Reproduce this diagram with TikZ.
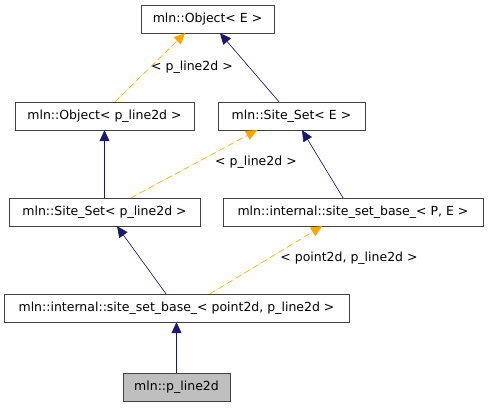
\documentclass[tikz,border=0pt]{standalone}
\usepackage{fontspec}
\setmainfont{DejaVu Sans}
\usetikzlibrary{arrows.meta, positioning}

\begin{document}
\begin{tikzpicture}[
  x=1pt, y=-1pt,
  cls/.style={draw=black!75, minimum height=28pt, inner sep=0pt,
              font=\fontsize{12.5}{14}\selectfont, fill=white},
  cur/.style={cls, fill=black!25},
  inh/.style={-{Triangle[length=11pt, width=10pt]}, draw=MidnightBlue, fill=MidnightBlue, semithick},
  tpl/.style={-{Triangle[length=11pt, width=10pt]}, draw=Orange, fill=Orange, semithick, dash pattern=on 6pt off 4pt},
  lbl/.style={font=\fontsize{12.5}{14}\selectfont}
]
  \definecolor{MidnightBlue}{HTML}{191970}
  \definecolor{Orange}{HTML}{FFA500}
  \useasboundingbox (0,0) rectangle (488,408);

  \node[cls, minimum width=133pt] (objE)   at (207.5, 19)  {mln::Object< E >};
  \node[cls, minimum width=179pt] (objL)   at (104.5, 116) {mln::Object< p\_line2d >};
  \node[cls, minimum width=147pt] (setE)   at (291.5, 116) {mln::Site\_Set< E >};
  \node[cls, minimum width=191pt] (setL)   at (104.5, 212) {mln::Site\_Set< p\_line2d >};
  \node[cls, minimum width=260pt] (baseE)  at (353,   212) {mln::internal::site\_set\_base\_< P, E >};
  \node[cls, minimum width=345pt] (baseL)  at (176.5, 308) {mln::internal::site\_set\_base\_< point2d, p\_line2d >};
  \node[cur, minimum width=107pt] (line)   at (176.5, 387) {mln::p\_line2d};

  \draw[tpl] ([xshift=10.5pt]objL.north)  -- ([xshift=-22.5pt]objE.south);
  \draw[inh] ([xshift=-12.5pt]setE.north) -- ([xshift=12.5pt]objE.south);
  \draw[inh] (setL.north) -- (objL.south);
  \draw[tpl] ([xshift=26.5pt]setL.north)  -- ([xshift=-34.5pt]setE.south);
  \draw[inh] ([xshift=-10pt]baseE.north)  -- ([xshift=10.5pt]setE.south);
  \draw[inh] ([xshift=-10.5pt]baseL.north) -- ([xshift=12.5pt]setL.south);
  \draw[tpl] ([xshift=33.5pt]baseL.north) -- ([xshift=-31pt]baseE.south);
  \draw[inh] (line.north) -- (baseL.south);

  \node[lbl] (tplA) at (192, 67)  {< p\_line2d >};
  \node[lbl] (tplB) at (256, 162) {< p\_line2d >};
  \node[lbl] (tplC) at (349, 258) {< point2d, p\_line2d >};
\end{tikzpicture}
\end{document}
